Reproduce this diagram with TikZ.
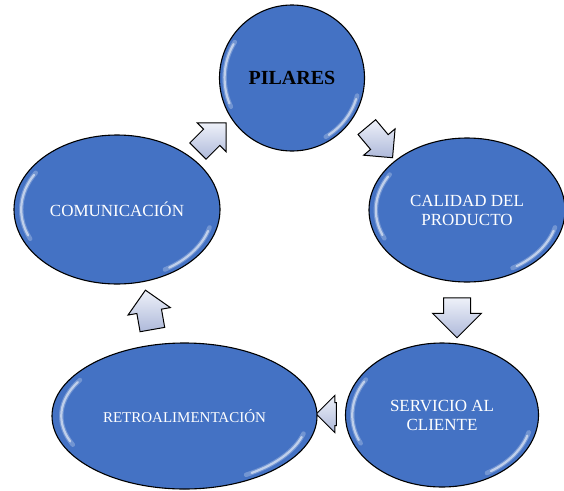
\documentclass[tikz,border=0pt]{standalone}
\usepackage{fontspec}
\setmainfont{Liberation Serif}
\usetikzlibrary{shapes.geometric,shapes.arrows,calc}
\definecolor{ballblue}{HTML}{4472C4}
\definecolor{arrowlight}{HTML}{EEF1F9}
\definecolor{arrowdark}{HTML}{AEB9DA}
\tikzset{
  bubble/.style={ellipse, draw=black, line width=1.1pt, fill=ballblue, inner sep=0pt,
    text=white, font=\fontsize{17}{19}\selectfont, align=center},
  blockarrow/.style={single arrow, draw=black, line width=1pt, top color=arrowlight,
    bottom color=arrowdark, inner sep=0pt,
    single arrow head extend=9pt, minimum height=40pt, anchor=center},
  shine/.style={white, opacity=0.55, line width=2.2pt, line cap=round},
  shinesoft/.style={white, opacity=0.25, line width=4.5pt, line cap=round}
}
\newcommand\glossy[3]{%
  \draw[shinesoft] ($(#1.center)+({0.93*#2*cos(148)},{0.93*#3*sin(148)})$)
    arc[start angle=148,end angle=205,x radius=0.93*#2 pt,y radius=0.93*#3 pt];
  \draw[shine] ($(#1.center)+({0.93*#2*cos(150)},{0.93*#3*sin(150)})$)
    arc[start angle=150,end angle=202,x radius=0.93*#2 pt,y radius=0.93*#3 pt];
  \draw[shinesoft] ($(#1.center)+({0.93*#2*cos(300)},{0.93*#3*sin(300)})$)
    arc[start angle=300,end angle=345,x radius=0.93*#2 pt,y radius=0.93*#3 pt];
  \draw[shine] ($(#1.center)+({0.93*#2*cos(303)},{0.93*#3*sin(303)})$)
    arc[start angle=303,end angle=342,x radius=0.93*#2 pt,y radius=0.93*#3 pt];
}
\begin{document}
\begin{tikzpicture}[x=1pt,y=1pt]
\clip (0,0) rectangle (564,-490);
\fill[white] (0,0) rectangle (564,-490);
% block arrows
\node[blockarrow, rotate=45] (a1) at (208,-141) {\rule{0pt}{22pt}};
\node[blockarrow, rotate=-50] (a2) at (376,-138) {\rule{0pt}{22pt}};
\node[blockarrow, rotate=-90, single arrow head extend=11pt] (a3) at (457,-311) {\rule{0pt}{26pt}};
\node[blockarrow, rotate=180, minimum height=20pt, single arrow head extend=7pt] (a4) at (332,-414) {\rule{0pt}{22pt}};
\node[blockarrow, rotate=100] (a5) at (150,-316) {\rule{0pt}{24pt}};
% bubbles
\node[bubble, minimum width=145pt, minimum height=146pt, text=black,
      font=\fontsize{20}{24}\selectfont\bfseries] (P) at (292,-78) {PILARES};
\node[bubble, minimum width=196pt, minimum height=144pt] (C) at (467,-210) {CALIDAD DEL\\PRODUCTO};
\node[bubble, minimum width=193pt, minimum height=144pt] (S) at (442,-415) {SERVICIO AL\\CLIENTE};
\node[bubble, minimum width=265pt, minimum height=146pt, font=\fontsize{15}{18}\selectfont] (R) at (184.5,-416) {RETROALIMENTACIÓN};
\node[bubble, minimum width=206pt, minimum height=149pt] (M) at (117,-209.5) {COMUNICACIÓN};
\glossy{P}{72.5}{73}
\glossy{C}{98}{72}
\glossy{S}{96.5}{72}
\glossy{R}{132.5}{73}
\glossy{M}{103}{74.5}
\end{tikzpicture}
\end{document}
